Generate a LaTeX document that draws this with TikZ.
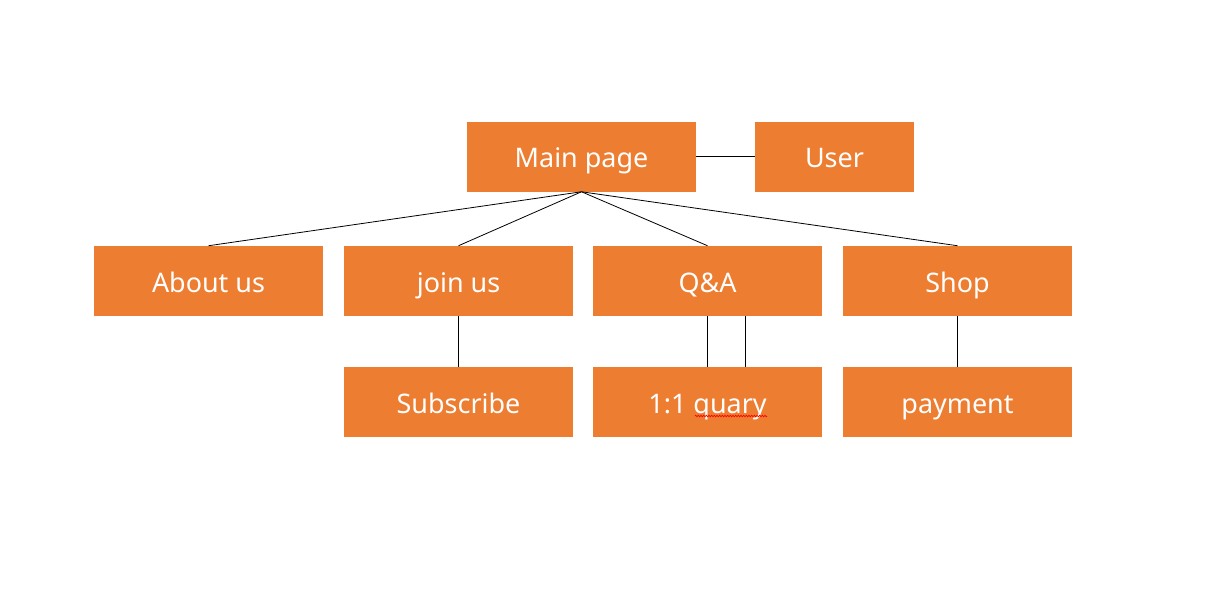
\documentclass[tikz,border=0pt]{standalone}
\usepackage{fontspec}
\setmainfont{Noto Sans}
\usetikzlibrary{decorations.pathmorphing}
\definecolor{office}{HTML}{ED7D31}
\tikzset{
  box/.style={fill=office, draw=none, text=white, minimum width=229*0.75pt, minimum height=70*0.75pt, inner sep=0pt, text height=17.2pt, text depth=0pt, font=\fontsize{20.2}{24}\selectfont},
  smallbox/.style={box, minimum width=159*0.75pt},
  link/.style={draw=black, line width=0.6pt}
}
\begin{document}
\begin{tikzpicture}[x=0.75pt,y=-0.75pt]
\useasboundingbox (0,0) rectangle (1213,611);
\node[box] (main) at (581.5,156.5) {Main page};
\node[smallbox] (user) at (834.5,156.5) {User};
\node[box] (about) at (208.5,281) {About us};
\node[box] (join) at (458.5,281) {join us};
\node[box] (qa) at (707.5,281) {Q\&A};
\node[box] (shop) at (957.5,281) {Shop};
\node[box] (sub) at (458.5,402) {Subscribe};
\node[box] (quary) at (707.5,402) {1:1 quary};
\node[box] (pay) at (957.5,402) {payment};
\draw[link] (main.east) -- (user.west);
\draw[link] (main.south) -- (about.north);
\draw[link] (main.south) -- (join.north);
\draw[link] (main.south) -- (qa.north);
\draw[link] (main.south) -- (shop.north);
\draw[link] (join.south) -- (sub.north);
\draw[link] (qa.south) -- (quary.north);
\draw[link] ([xshift=38*0.75pt]qa.south) -- ([xshift=38*0.75pt]quary.north);
\draw[link] (shop.south) -- (pay.north);
\coordinate (sq1) at (695,416);
\coordinate (sq2) at (767,416);
\draw[red, line width=0.5pt, decorate, decoration={zigzag, amplitude=0.6pt, segment length=2pt}] (sq1) -- (sq2);
\end{tikzpicture}
\end{document}
